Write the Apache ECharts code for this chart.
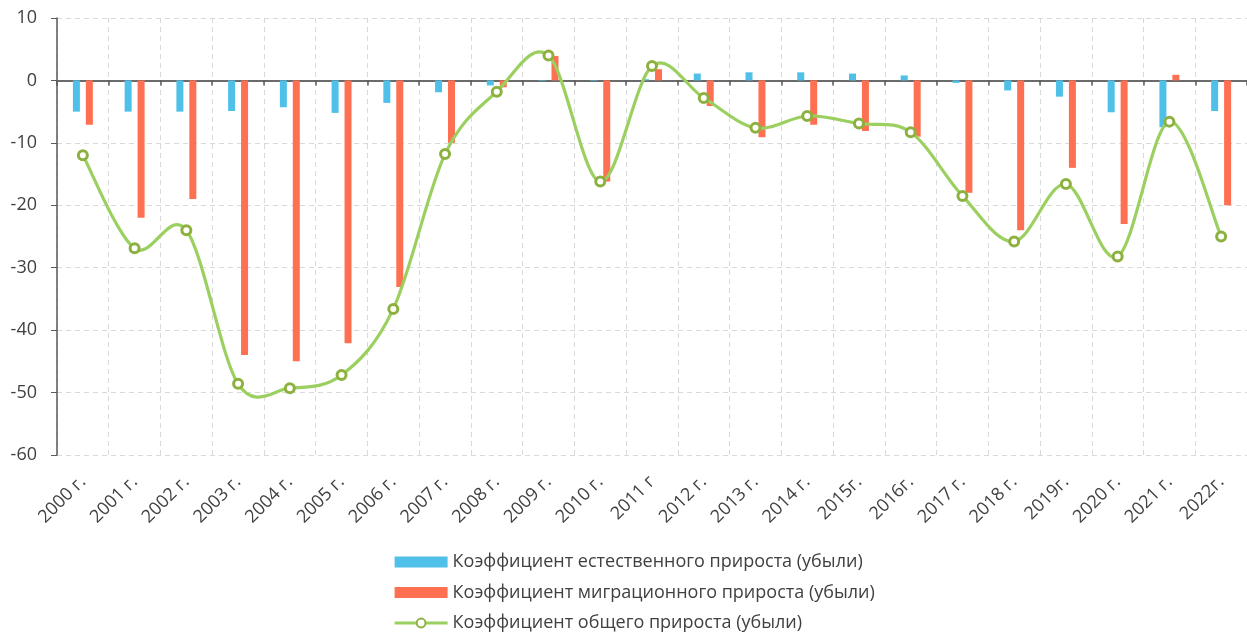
<!DOCTYPE html>
<html>
<head>
<meta charset="utf-8">
<script src="https://cdn.jsdelivr.net/npm/echarts@6/dist/echarts.min.js"></script>
<style>
  html, body { margin: 0; padding: 0; background: #fff; }
  #chart { width: 1247px; height: 635px; }
</style>
</head>
<body>
<div id="chart"></div>
<script>
const years = ['2000 г.', '2001 г.', '2002 г.', '2003 г.', '2004 г.', '2005 г.', '2006 г.', '2007 г.', '2008 г.', '2009 г.', '2010 г.', '2011 г', '2012 г.', '2013 г.', '2014 г.', '2015г.', '2016г.', '2017 г.', '2018 г.', '2019г.', '2020 г.', '2021 г.', '2022г.'];
const natural = [-5.0, -5.0, -5.0, -4.9, -4.3, -5.2, -3.6, -1.9, -0.8, -0.1, -0.1, 0.2, 1.1, 1.3, 1.3, 1.1, 0.8, -0.4, -1.6, -2.6, -5.1, -7.5, -4.9];
const migration = [-7.1, -22, -19, -44, -45, -42.1, -33.1, -10, -1.1, 3.9, -16.2, 1.8, -4.1, -9.1, -7.1, -8.1, -9, -18, -24, -14, -23, 0.9, -20];
const total = [-12.0, -26.9, -24.0, -48.6, -49.3, -47.2, -36.6, -11.8, -1.8, 4.0, -16.2, 2.3, -2.8, -7.6, -5.7, -6.9, -8.3, -18.5, -25.8, -16.6, -28.2, -6.6, -25.0];

const names = [
  'Коэффициент естественного прироста (убыли)',
  'Коэффициент миграционного прироста (убыли)',
  'Коэффициент общего прироста (убыли)'
];

const textColor = '#404040';
const font = '"Open Sans", "Noto Sans", sans-serif';
const lineColor = '#9bd060';
const gridLine = { show: true, lineStyle: { color: '#d9d9d9', type: [5, 4], width: 1 } };

// excel-like smoothed curve: one bezier piece per pair of neighbouring points
function renderCurve(params, api) {
  const i = params.dataIndex;
  const n = total.length;
  if (i >= n - 1) return null;
  const pt = k => api.coord([k, total[Math.max(0, Math.min(n - 1, k))]]);
  const p0 = i > 0 ? pt(i - 1) : pt(i);
  const p1 = pt(i);
  const p2 = pt(i + 1);
  const p3 = i + 2 < n ? pt(i + 2) : pt(i + 1);
  return {
    type: 'bezierCurve',
    shape: {
      x1: p1[0], y1: p1[1],
      x2: p2[0], y2: p2[1],
      cpx1: p1[0] + (p2[0] - p0[0]) / 6, cpy1: p1[1] + (p2[1] - p0[1]) / 6,
      cpx2: p2[0] - (p3[0] - p1[0]) / 6, cpy2: p2[1] - (p3[1] - p1[1]) / 6
    },
    style: { stroke: lineColor, lineWidth: 3.2, fill: null, lineCap: 'round' }
  };
}

const chart = echarts.init(document.getElementById('chart'));
chart.setOption({
  animation: false,
  textStyle: { fontFamily: font },
  grid: { left: 57, top: 18, width: 1192, height: 437, containLabel: false },
  legend: {
    orient: 'vertical',
    left: 393,
    top: 551,
    padding: 0,
    height: 100,
    itemWidth: 53,
    itemHeight: 11,
    itemGap: 8.5,
    textStyle: { fontSize: 18, lineHeight: 22, color: textColor, fontFamily: font },
    data: [
      { name: names[0], icon: 'rect' },
      { name: names[1], icon: 'rect' },
      { name: names[2], lineStyle: { color: lineColor, width: 3.2, opacity: 1 } }
    ]
  },
  xAxis: [{
    type: 'category',
    data: years,
    position: 'bottom',
    axisLine: { show: false, onZero: false },
    axisTick: { show: false },
    splitLine: gridLine,
    axisLabel: { rotate: 45, fontSize: 18, color: textColor, margin: 24, interval: 0 }
  }, {
    type: 'category',
    data: years,
    position: 'top',
    axisLine: { show: true, onZero: true, lineStyle: { color: '#6b6b6b', width: 2 } },
    axisTick: { show: true, inside: true, length: 5, lineStyle: { color: '#595959', width: 1.5 } },
    axisLabel: { show: false },
    splitLine: { show: false }
  }],
  yAxis: {
    type: 'value',
    min: -60,
    max: 10,
    interval: 10,
    axisLine: { show: true, lineStyle: { color: '#595959', width: 1.5 } },
    axisTick: { show: true, length: 6, lineStyle: { color: '#595959' } },
    axisLabel: { fontSize: 18, color: textColor, margin: 20 },
    splitLine: gridLine
  },
  series: [{
    name: names[0],
    type: 'bar',
    data: natural,
    barWidth: 7,
    barGap: '85%',
    itemStyle: { color: '#4fc0e8' }
  }, {
    name: names[1],
    type: 'bar',
    data: migration,
    barWidth: 7,
    itemStyle: { color: '#ff6f51' }
  }, {
    name: 'curve',
    type: 'custom',
    data: total.map((v, i) => [i, v]),
    encode: { x: 0, y: 1 },
    renderItem: renderCurve,
    silent: true,
    z: 4
  }, {
    name: names[2],
    type: 'line',
    data: total,
    symbol: 'circle',
    symbolSize: 9,
    showAllSymbol: true,
    lineStyle: { color: lineColor, width: 0, opacity: 0 },
    itemStyle: { color: '#fff', borderColor: '#8db13f', borderWidth: 3 },
    z: 5
  }]
});
</script>
</body>
</html>
